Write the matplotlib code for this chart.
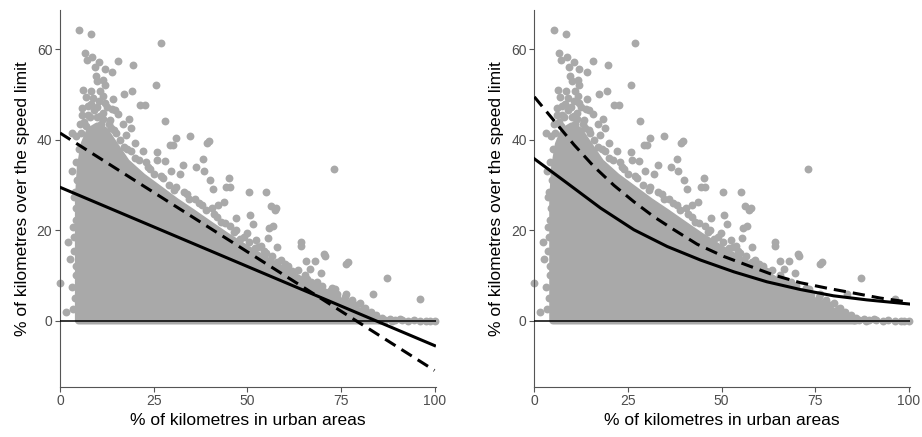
import matplotlib
matplotlib.use("Agg")
import matplotlib.pyplot as plt
from matplotlib.patches import Polygon

plt.rcParams['font.family'] = ['Liberation Sans', 'DejaVu Sans']

GREY = '#A9A9A9'

# outline of the solid grey mass of overlapping points
mass_x = [5.0, 5.0, 5.5, 6.5, 8, 10, 12, 14, 17.7, 22, 26.6, 31, 35.5, 40, 44.4,
          49, 53.3, 58, 62.1, 67, 71, 75, 79.9, 84, 86]
mass_y = [0, 27, 34, 39, 42, 43, 42, 39.5, 35, 31.8, 29, 26.3, 23.8, 21.2, 18.7,
          16.3, 14.2, 12, 10, 7.8, 6.2, 4.2, 2, 0.6, 0]

# individual points that stand out from the mass
points = [
    (5.2, 64.2), (8.4, 63.3), (26.9, 61.3), (6.7, 59.1), (8.6, 58.4), (7.1, 57.7),
    (10.5, 57.3), (9.3, 56.1), (12.0, 55.6), (15.6, 57.5), (14.0, 54.9), (19.6, 56.5),
    (9.5, 54.0), (10.0, 53.1), (11.6, 53.2), (12.0, 52.1), (6.2, 51.0), (8.4, 50.8),
    (10.8, 50.7), (6.9, 49.4), (8.9, 49.2), (11.6, 49.6), (14.2, 49.0), (17.2, 50.1),
    (19.3, 50.7), (25.7, 52.1), (21.3, 47.7), (22.7, 47.7), (9.8, 47.3), (12.6, 47.3),
    (14.7, 46.6), (15.6, 45.7), (18.4, 44.7), (28.1, 44.2), (6.0, 45.5), (8.0, 45.1),
    (10.7, 45.3), (13.3, 44.4), (16.9, 43.6), (5.3, 43.6), (7.5, 47.5), (11.5, 46.0),
    (13.5, 42.5), (15.0, 41.5), (17.5, 41.0), (19.0, 42.5), (20.0, 39.4), (22.2, 37.6),
    (12.0, 48.2), (7.0, 43.0), (4.4, 40.9), (3.1, 41.4), (9.0, 41.5), (11.0, 43.5),
    (30.9, 40.5), (34.7, 40.9), (39.3, 39.3), (39.7, 39.8), (29.3, 38.8), (30.2, 38.8),
    (25.8, 37.3), (28.0, 35.3), (26.0, 35.6), (38.2, 35.7), (38.4, 33.2), (32.9, 34.5),
    (36.4, 34.0), (29.6, 33.1), (32.0, 32.5), (45.2, 31.5), (44.4, 29.5), (45.5, 29.5),
    (40.9, 29.1), (50.4, 28.5), (55.1, 28.5), (43.7, 26.2), (56.3, 25.4), (57.8, 24.9),
    (57.3, 24.5), (40.6, 24.9), (51.5, 21.4), (55.8, 20.4), (56.9, 20.9), (55.5, 18.2),
    (58.0, 16.2), (64.4, 17.5), (64.4, 16.5), (65.6, 13.2), (70.5, 14.8), (70.7, 14.2),
    (76.4, 12.5), (76.9, 12.9), (69.6, 10.5), (87.3, 9.5), (83.6, 5.8), (73.3, 6.9),
    (76.4, 5.9), (96.2, 4.7), (73.2, 33.5), (47.1, 22.6), (52.4, 17.8), (49.8, 19.3),
    (53.8, 16.6), (50.7, 23.4), (42.2, 25.6), (40.0, 31.1), (61.8, 10.5), (66.8, 11.4),
    (68.1, 13.2),
    # ragged top edge of the mass
    (5.5, 41.5), (6.5, 44), (7.5, 45.5), (9, 46.5), (10, 45), (11.5, 44.5), (13, 43.5),
    (14.5, 42.2), (16, 40), (17, 38.5), (8.2, 48), (6, 47), (10.5, 48.5), (13.8, 46.8),
    (19, 37.5), (21, 35.5), (23.5, 34), (25, 32.5), (27.5, 31.5), (29, 30), (30.5, 28.8),
    (33, 28.5), (34.5, 27), (37, 26), (39, 24.5), (41, 23.5), (43, 21.8), (45.5, 21),
    (46.5, 19.5), (49, 18.5), (50.5, 17.3), (53, 16.2), (54.5, 15.5), (56.5, 14.3),
    (59, 13.4), (61, 12), (63.5, 11.2), (65.5, 10), (66, 9.2), (68.5, 8.6), (70, 7.6),
    (72.5, 7.2), (74, 6), (76, 5.3), (78, 4.5), (80, 3.8), (81.5, 2.8), (83, 2),
    (84.5, 1.2), (86, 0.6), (88, 0.4), (89.5, 0.2), (93, 0), (94.5, 0.1),
    (24, 33.5), (27, 32), (31, 29.5), (34, 28), (36, 27), (38, 25.5), (42, 23),
    (44, 21.5), (47, 20), (48, 18), (52, 16), (55, 15), (58, 13), (60, 12.5),
    (62, 11), (63, 9.5), (67, 8.5), (69, 7.5), (72, 6.5), (74, 5), (77, 4),
    (79, 3.5), (81, 2.5), (82, 1.5), (20, 36), (18, 38), (23, 35),
    # along the zero line beyond the mass
    (81.3, 0.9), (82.8, 1.3), (85.3, 0.2), (86.8, 0.15), (88.7, 0), (90.7, 0.3),
    (91.2, 0.1), (96.2, 0), (97.8, 0), (98.7, 0), (100, 0),
    # left of the mass
    (0, 8.4), (1.6, 2.0), (2.2, 17.5), (2.7, 13.6), (3.1, 7.5), (3.7, 15.5),
    (3.6, 20.8), (4.3, 22.3), (3.7, 27.4), (4.0, 28.5), (3.5, 2.5), (4.2, 10),
    (4.0, 5), (4.3, 12), (3.8, 18.5), (4.4, 25), (4.6, 31), (4.2, 35), (5.0, 38),
    (3.3, 33),
]
pts_x = [p[0] for p in points]
pts_y = [p[1] for p in points]

# fitted lines, left panel (linear)
lin_x = [0, 100]
lin_solid = [29.5, -5.5]
lin_dashed = [41.5, -11.0]

# fitted curves, right panel
exp_solid_x = [0, 8.8, 17.7, 26.6, 35.5, 44.4, 53.3, 62.1, 71, 79.9, 88.8, 100]
exp_solid = [35.8, 30.4, 24.9, 20.1, 16.4, 13.4, 10.8, 8.6, 6.9, 5.5, 4.6, 3.7]
exp_dashed_x = [0, 5.3, 10.6, 15.9, 21.3, 26.6, 31.9, 37.3, 43.5, 50.6, 57.7,
                63.9, 71, 78.1, 85.3, 92.4, 100]
exp_dashed = [49.5, 44.2, 38.9, 34.1, 29.9, 26.3, 23.0, 20.1, 16.9, 14.2, 12.0,
              10.1, 8.4, 7.2, 6.1, 5.0, 4.1]

xticks = [0, 25, 50, 75, 100]
yticks = [0, 20, 40, 60]


def draw_panel(ax, sx, solid, dx, dashed):
    poly = Polygon(list(zip(mass_x, mass_y)), closed=True, facecolor=GREY,
                   edgecolor=GREY, linewidth=5.5, joinstyle='round', zorder=1)
    ax.add_patch(poly)
    ax.scatter(pts_x, pts_y, s=32, color=GREY, linewidths=0, zorder=2, clip_on=False)
    ax.axhline(0, color='black', linewidth=1.1, zorder=3)
    ax.plot(sx, solid, color='black', linewidth=2.2, zorder=4)
    ax.plot(dx, dashed, color='black', linewidth=2.2, dashes=(4, 2.3), zorder=4)

    ax.set_xlim(0, 100.4)
    ax.set_ylim(-14.6, 68.7)
    ax.set_xticks(xticks)
    ax.set_yticks(yticks)
    for s in ['top', 'right']:
        ax.spines[s].set_visible(False)
    for s in ['left', 'bottom']:
        ax.spines[s].set_color('#555555')
        ax.spines[s].set_linewidth(0.8)
    ax.tick_params(direction='out', length=3.5, width=0.8, color='#555555',
                   labelcolor='#4D4D4D', labelsize=10, pad=2)
    ax.set_xlabel('% of kilometres in urban areas', fontsize=12.5, labelpad=3)
    ax.set_ylabel('% of kilometres over the speed limit', fontsize=12.5, labelpad=5)


fig = plt.figure(figsize=(9.22, 4.37), dpi=100)
ax1 = fig.add_axes([60 / 922, 0.1151, 376 / 922, 0.862])
ax2 = fig.add_axes([534.3 / 922, 0.1151, 376 / 922, 0.862])

draw_panel(ax1, lin_x, lin_solid, lin_x, lin_dashed)
draw_panel(ax2, exp_solid_x, exp_solid, exp_dashed_x, exp_dashed)

fig.savefig('out.png', dpi=100)
